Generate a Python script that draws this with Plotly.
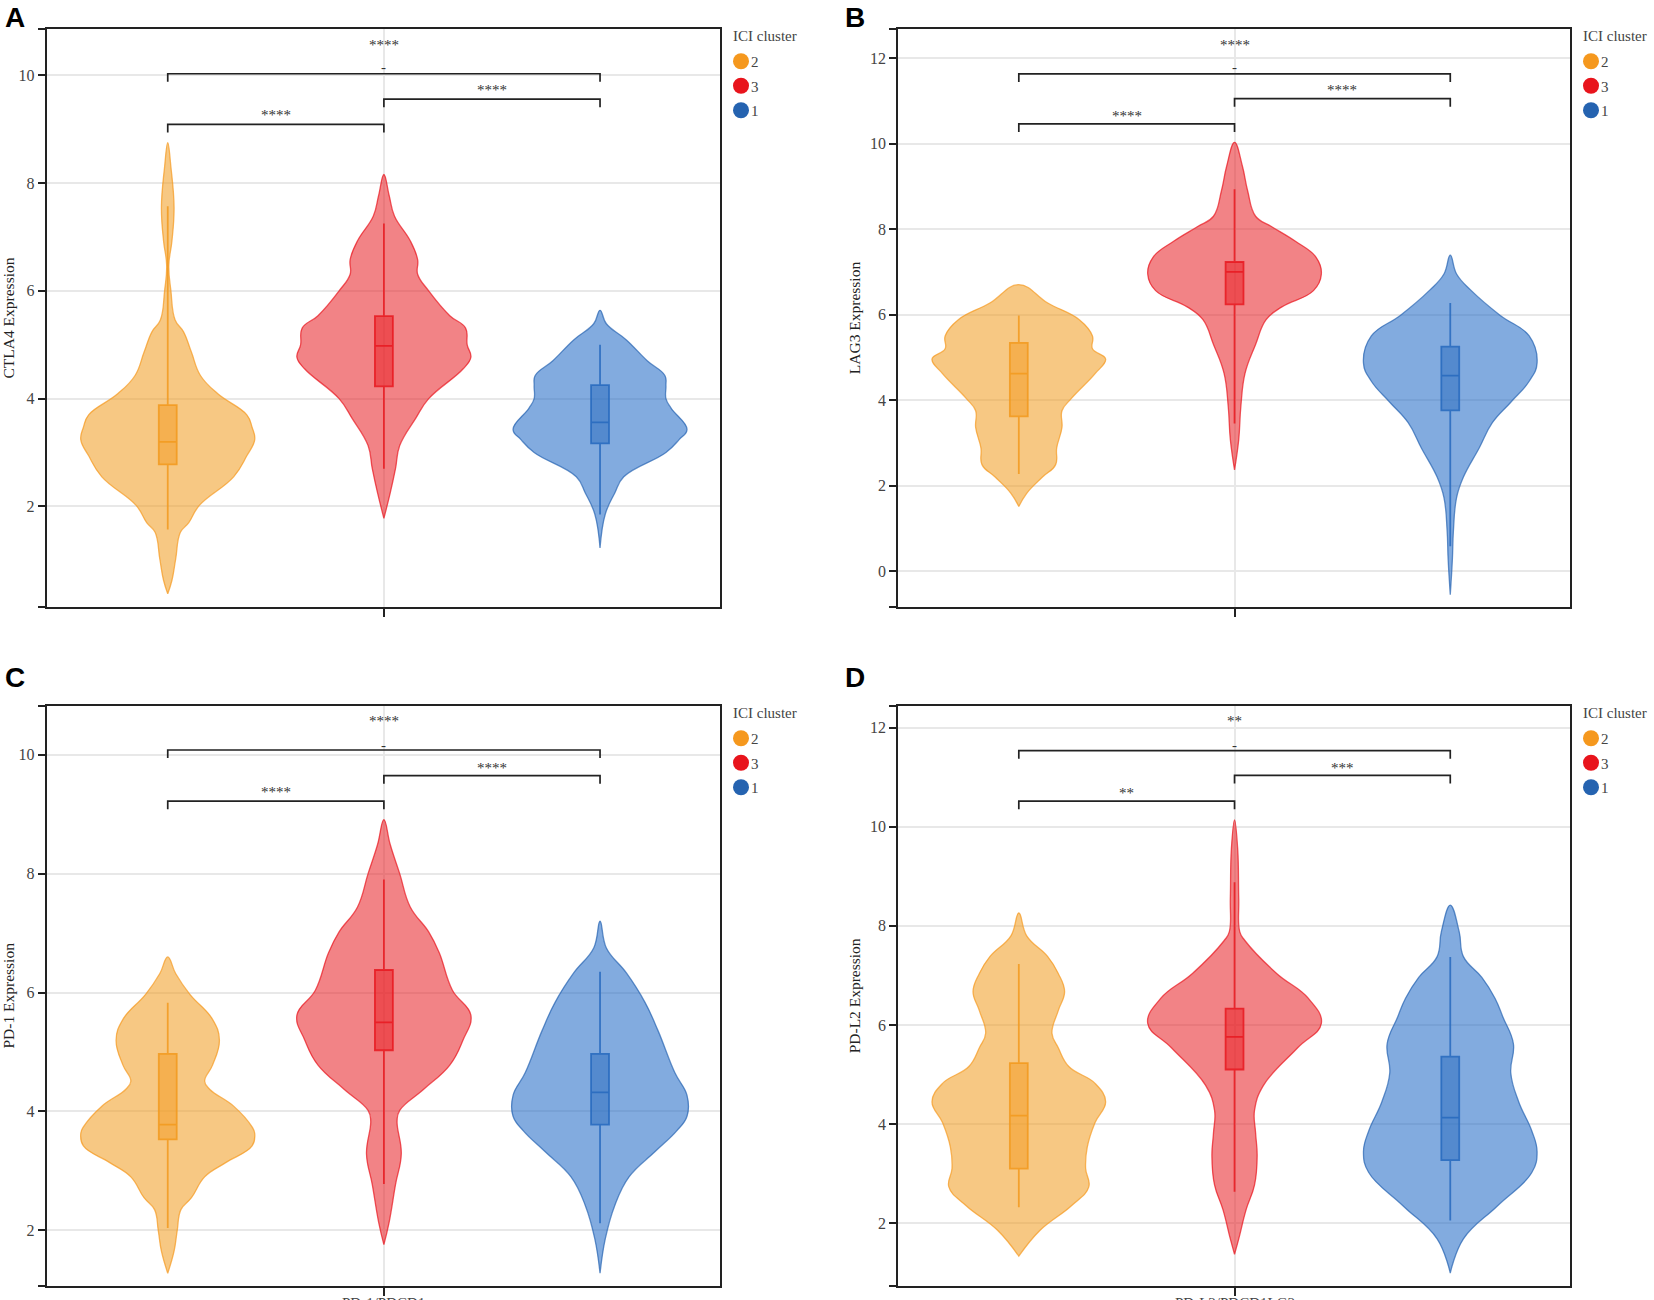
import plotly.graph_objects as go

# ---------- data ----------
CLUSTERS = ["2", "3", "1"]
POSITIONS = [0, 1, 2]
COLORS = {"2": "245,152,30", "3": "232,20,28", "1": "37,99,176"}
FILLS = {"2": "rgba(240,155,30,0.55)", "3": "rgba(232,30,35,0.55)", "1": "rgba(40,110,200,0.58)"}
DENSITY_SCALE = 1 / 410

A_ylab = "CTLA4 Expression"
A_lev_2 = [8.75,8.3,7.55,6.93,6.47,6.0,5.46,5.24,4.86,4.43,4.09,3.7,3.47,3.24,2.94,2.55,2.02,1.7,1.52,1.02,0.63,0.38]
A_den_2 = [0,6,12,8,2,6,14,30,45,62,95,150,160,165,150,125,60,40,24,15,8,0]
A_lev_3 = [8.16,7.77,7.39,6.93,6.58,6.31,6.0,5.54,5.31,5.0,4.77,4.55,4.0,3.63,3.13,2.7,2.25,1.78]
A_den_3 = [0,10,20,50,64,64,85,125,155,158,165,150,85,60,30,22,12,0]
A_lev_1 = [5.64,5.39,5.09,4.7,4.43,4.24,4.0,3.82,3.43,3.24,3.0,2.55,2.25,1.86,1.23]
A_den_1 = [0,12,50,90,123,125,125,135,165,150,125,45,28,10,0]
A_box = {"2": [1.57,2.78,3.2,3.88,7.57], "3": [2.7,4.23,4.98,5.53,7.25], "1": [1.85,3.17,3.56,4.25,5.0]}
A_brackets = [10.03, 9.56, 9.09]
A_sig = ["****", "-", "****", "****"]
A_sig_y = [10.59, 10.15, 9.75, 9.28]
A_ticks = [10, 8, 6, 4, 2]
A_range = [0.134, 10.86]

B_ylab = "LAG3 Expression"
B_lev_2 = [6.7,6.27,5.88,5.5,5.2,4.96,4.62,4.04,3.75,3.36,2.88,2.49,2.2,1.82,1.51]
B_den_2 = [0,55,115,140,140,165,145,100,82,82,72,70,45,15,0]
B_lev_3 = [10.03,9.47,8.89,8.3,8.06,7.72,7.34,6.95,6.56,6.18,5.88,5.3,4.63,3.85,3.08,2.37]
B_den_3 = [0,15,25,40,70,115,155,165,150,90,60,40,20,12,8,0]
B_lev_1 = [7.39,6.95,6.56,5.98,5.5,4.87,4.44,3.95,3.47,2.88,2.2,1.72,0.95,0.27,-0.55]
B_den_1 = [0,12,40,95,150,165,150,115,80,55,25,12,6,4,0]
B_box = {"2": [2.27,3.62,4.62,5.34,5.98], "3": [3.45,6.24,7.0,7.23,8.93], "1": [0.58,3.76,4.57,5.25,6.27]}
B_brackets = [11.63, 11.05, 10.46]
B_sig = ["****", "-", "****", "****"]
B_sig_y = [12.34, 11.79, 11.28, 10.68]
B_ticks = [12, 10, 8, 6, 4, 2, 0]
B_range = [-0.84, 12.68]

C_ylab = "PD-1 Expression"
C_lev_2 = [6.6,6.32,5.97,5.55,5.2,4.78,4.51,4.37,4.09,3.74,3.63,3.42,3.14,2.9,2.55,2.35,2.0,1.65,1.28]
C_den_2 = [0,15,42,85,98,85,70,80,125,160,165,160,110,70,45,25,18,12,0]
C_lev_3 = [8.91,8.49,8.0,7.44,7.02,6.67,6.04,5.62,5.2,4.78,4.37,4.02,3.84,3.29,2.77,2.14,1.76]
C_den_3 = [0,12,30,50,85,105,130,165,150,125,75,30,25,33,22,10,0]
C_lev_1 = [7.2,6.75,6.33,5.84,5.36,4.65,4.27,3.92,3.67,3.33,2.9,2.42,1.86,1.28]
C_den_1 = [0,12,50,85,110,142,165,165,145,105,55,28,10,0]
C_box = {"2": [2.04,3.53,3.78,4.97,5.83], "3": [2.78,5.03,5.5,6.38,7.9], "1": [2.12,3.78,4.32,4.97,6.35]}
C_brackets = [10.08, 9.65, 9.22]
C_sig = ["****", "-", "****", "****"]
C_sig_y = [10.59, 10.17, 9.8, 9.39]
C_ticks = [10, 8, 6, 4, 2]
C_range = [1.07, 10.82]
C_xlab = "PD-1/PDCD1"

D_ylab = "PD-L2 Expression"
D_lev_2 = [8.26,7.8,7.38,7.04,6.67,6.29,5.83,5.54,5.16,4.82,4.45,4.03,3.53,3.1,2.73,2.35,1.85,1.33]
D_den_2 = [0,15,55,75,87,75,63,75,95,145,165,145,130,127,133,100,40,0]
D_lev_3 = [10.14,9.55,8.55,7.88,7.7,7.04,6.54,6.03,5.54,4.78,4.28,3.82,3.36,2.77,2.27,1.68,1.37]
D_den_3 = [0,6,8,10,20,80,140,165,120,55,38,40,43,38,22,8,0]
D_lev_1 = [8.42,7.88,7.38,6.96,6.54,6.16,5.62,5.03,4.45,3.86,3.44,3.02,2.35,1.68,0.99]
D_den_1 = [0,17,25,60,85,100,120,115,130,155,165,155,90,25,0]
D_box = {"2": [2.32,3.1,4.17,5.23,7.23], "3": [2.63,5.1,5.76,6.33,8.88], "1": [2.05,3.27,4.13,5.36,7.37]}
D_brackets = [11.54, 11.04, 10.52]
D_sig = ["**", "-", "***", "**"]
D_sig_y = [12.15, 11.65, 11.2, 10.7]
D_ticks = [12, 10, 8, 6, 4, 2]
D_range = [0.735, 12.44]
D_xlab = "PD-L2/PDCD1LG2"

PANELS = [
    ("A", A_ylab, {"2": (A_lev_2, A_den_2), "3": (A_lev_3, A_den_3), "1": (A_lev_1, A_den_1)}, A_box, A_brackets, A_sig, A_sig_y, A_ticks, A_range, None),
    ("B", B_ylab, {"2": (B_lev_2, B_den_2), "3": (B_lev_3, B_den_3), "1": (B_lev_1, B_den_1)}, B_box, B_brackets, B_sig, B_sig_y, B_ticks, B_range, None),
    ("C", C_ylab, {"2": (C_lev_2, C_den_2), "3": (C_lev_3, C_den_3), "1": (C_lev_1, C_den_1)}, C_box, C_brackets, C_sig, C_sig_y, C_ticks, C_range, C_xlab),
    ("D", D_ylab, {"2": (D_lev_2, D_den_2), "3": (D_lev_3, D_den_3), "1": (D_lev_1, D_den_1)}, D_box, D_brackets, D_sig, D_sig_y, D_ticks, D_range, D_xlab),
]

# ---------- layout in pixels ----------
W, H = 1654, 1300
X_SPANS = {"A": (46.7, 720), "B": (898, 1570), "C": (46.7, 720), "D": (898, 1570)}
Y_SPANS = {"A": (29, 607), "B": (29, 607), "C": (706, 1285.7), "D": (706, 1285.7)}
LETTER_XY = {"A": (3, 17), "B": (843, 17), "C": (3, 677), "D": (843, 677)}
XRANGE = [-0.56, 2.555]
SERIF = "Liberation Serif"
STEM = 0.15

fig = go.Figure()
layout = dict(width=W, height=H, margin=dict(l=0, r=0, t=0, b=0), paper_bgcolor="white",
              plot_bgcolor="white", showlegend=True, font=dict(family=SERIF, size=15, color="#444"),
              annotations=[])

for i, (name, ylab, shapes, boxes, brackets, sig, sig_y, ticks, yr, xlab) in enumerate(PANELS):
    suf = "" if i == 0 else str(i + 1)
    xa, ya = "x" + suf, "y" + suf
    legend_id = "legend" + suf
    x0, x1 = X_SPANS[name]
    y0, y1 = Y_SPANS[name]

    # violin outlines
    for pos, c in zip(POSITIONS, CLUSTERS):
        lev, den = shapes[c]
        right = [pos + d * DENSITY_SCALE for d in den]
        left = [pos - d * DENSITY_SCALE for d in den]
        fig.add_trace(go.Scatter(
            x=right + left[::-1], y=lev + lev[::-1], mode="lines", fill="toself",
            fillcolor=FILLS[c],
            line=dict(color=f"rgba({COLORS[c]},0.7)", width=1.3, shape="spline", smoothing=1.2),
            xaxis=xa, yaxis=ya, showlegend=False, hoverinfo="skip"))
        wl, q1, med, q3, wu = boxes[c]
        fig.add_trace(go.Box(
            x=[pos], lowerfence=[wl], q1=[q1], median=[med], q3=[q3], upperfence=[wu],
            width=0.083, whiskerwidth=0, boxpoints=False,
            fillcolor=f"rgba({COLORS[c]},0.5)", line=dict(color=f"rgba({COLORS[c]},0.85)", width=1.8),
            xaxis=xa, yaxis=ya, showlegend=False, hoverinfo="skip"))
        # legend entry
        fig.add_trace(go.Scatter(
            x=[None], y=[None], mode="markers", name=c, legend=legend_id, legendgroup=name + c,
            marker=dict(color=f"rgb({COLORS[c]})", size=16, symbol="circle"),
            xaxis=xa, yaxis=ya, showlegend=True))

    # significance brackets
    top, mid, low = brackets
    for (a, b), lvl in zip([(0, 2), (1, 2), (0, 1)], [top, mid, low]):
        stem = STEM * (yr[1] - yr[0]) / 10.7
        fig.add_trace(go.Scatter(
            x=[POSITIONS[a], POSITIONS[a], POSITIONS[b], POSITIONS[b]],
            y=[lvl - stem, lvl, lvl, lvl - stem], mode="lines",
            line=dict(color="#222", width=1.7), xaxis=xa, yaxis=ya, showlegend=False, hoverinfo="skip"))
    for txt, yv, xv in zip(sig, sig_y, [1, 1, 1.5, 0.5]):
        layout["annotations"].append(dict(
            x=xv, y=yv, xref=xa, yref=ya, text=txt, showarrow=False, yanchor="middle",
            yshift=-1 if txt != "-" else 0,
            font=dict(family=SERIF, size=15, color="#333")))

    # axes
    layout["xaxis" + suf] = dict(
        domain=[x0 / W, x1 / W], range=XRANGE, anchor=ya, tickmode="array", tickvals=[1], ticktext=[""],
        ticks="outside", ticklen=8, tickwidth=1.6, tickcolor="#222", showgrid=True, gridcolor="#e8e8e8",
        gridwidth=1.5, zeroline=False, showline=True, mirror=True, linecolor="#222", linewidth=1.8)
    layout["yaxis" + suf] = dict(
        domain=[1 - y1 / H, 1 - y0 / H], range=yr, anchor=xa, tickmode="array",
        tickvals=[yr[1]] + ticks + [yr[0]], ticktext=[""] + [str(t) for t in ticks] + [""],
        ticks="outside", ticklen=7, tickwidth=1.6, tickcolor="#222", showgrid=True, gridcolor="#e8e8e8",
        gridwidth=1.5, zeroline=False, showline=True, mirror=True, linecolor="#222", linewidth=1.8,
        tickfont=dict(family=SERIF, size=16, color="#444"),
        title=dict(text=ylab, standoff=5, font=dict(family=SERIF, size=15.5, color="#222")))

    layout[legend_id] = dict(
        x=(x1 + 1) / W, y=1 - (y0 + 16) / H, xanchor="left", yanchor="top", bgcolor="rgba(0,0,0,0)",
        font=dict(family=SERIF, size=15, color="#444"), tracegroupgap=2, itemclick=False, itemdoubleclick=False)

    # legend heading
    layout["annotations"].append(dict(
        x=(x1 + 11) / W, y=1 - (y0 + 7) / H, xref="paper", yref="paper", xanchor="left", yanchor="middle",
        text="ICI cluster", showarrow=False, font=dict(family=SERIF, size=15, color="#444")))

    # panel letter
    lx, ly = LETTER_XY[name]
    layout["annotations"].append(dict(
        x=lx / W, y=1 - ly / H, xref="paper", yref="paper", xanchor="left", yanchor="middle", text=f"<b>{name}</b>",
        showarrow=False, font=dict(family="Liberation Sans", size=28, color="#000")))
    if xlab:
        layout["annotations"].append(dict(
            x=1, y=1 - 1293 / H, xref=xa, yref="paper", yanchor="top", text=xlab,
            showarrow=False, font=dict(family=SERIF, size=15, color="#444")))

fig.update_layout(**layout)
POST = """
document.body.style.margin='0';document.body.style.overflow='hidden';
var gd=document.getElementById('{plot_id}');
function nudgeLegend(){document.querySelectorAll('.legendtext,.legend2text,.legend3text,.legend4text').forEach(function(t){
  t.setAttribute('x','30');
});}
gd.on('plotly_afterplot',nudgeLegend);nudgeLegend();
[20,50,100,200,400,800,1500].forEach(function(ms){setTimeout(nudgeLegend,ms);});
"""
fig.write_html("out.html", config={"responsive": False, "displayModeBar": False}, post_script=POST)
